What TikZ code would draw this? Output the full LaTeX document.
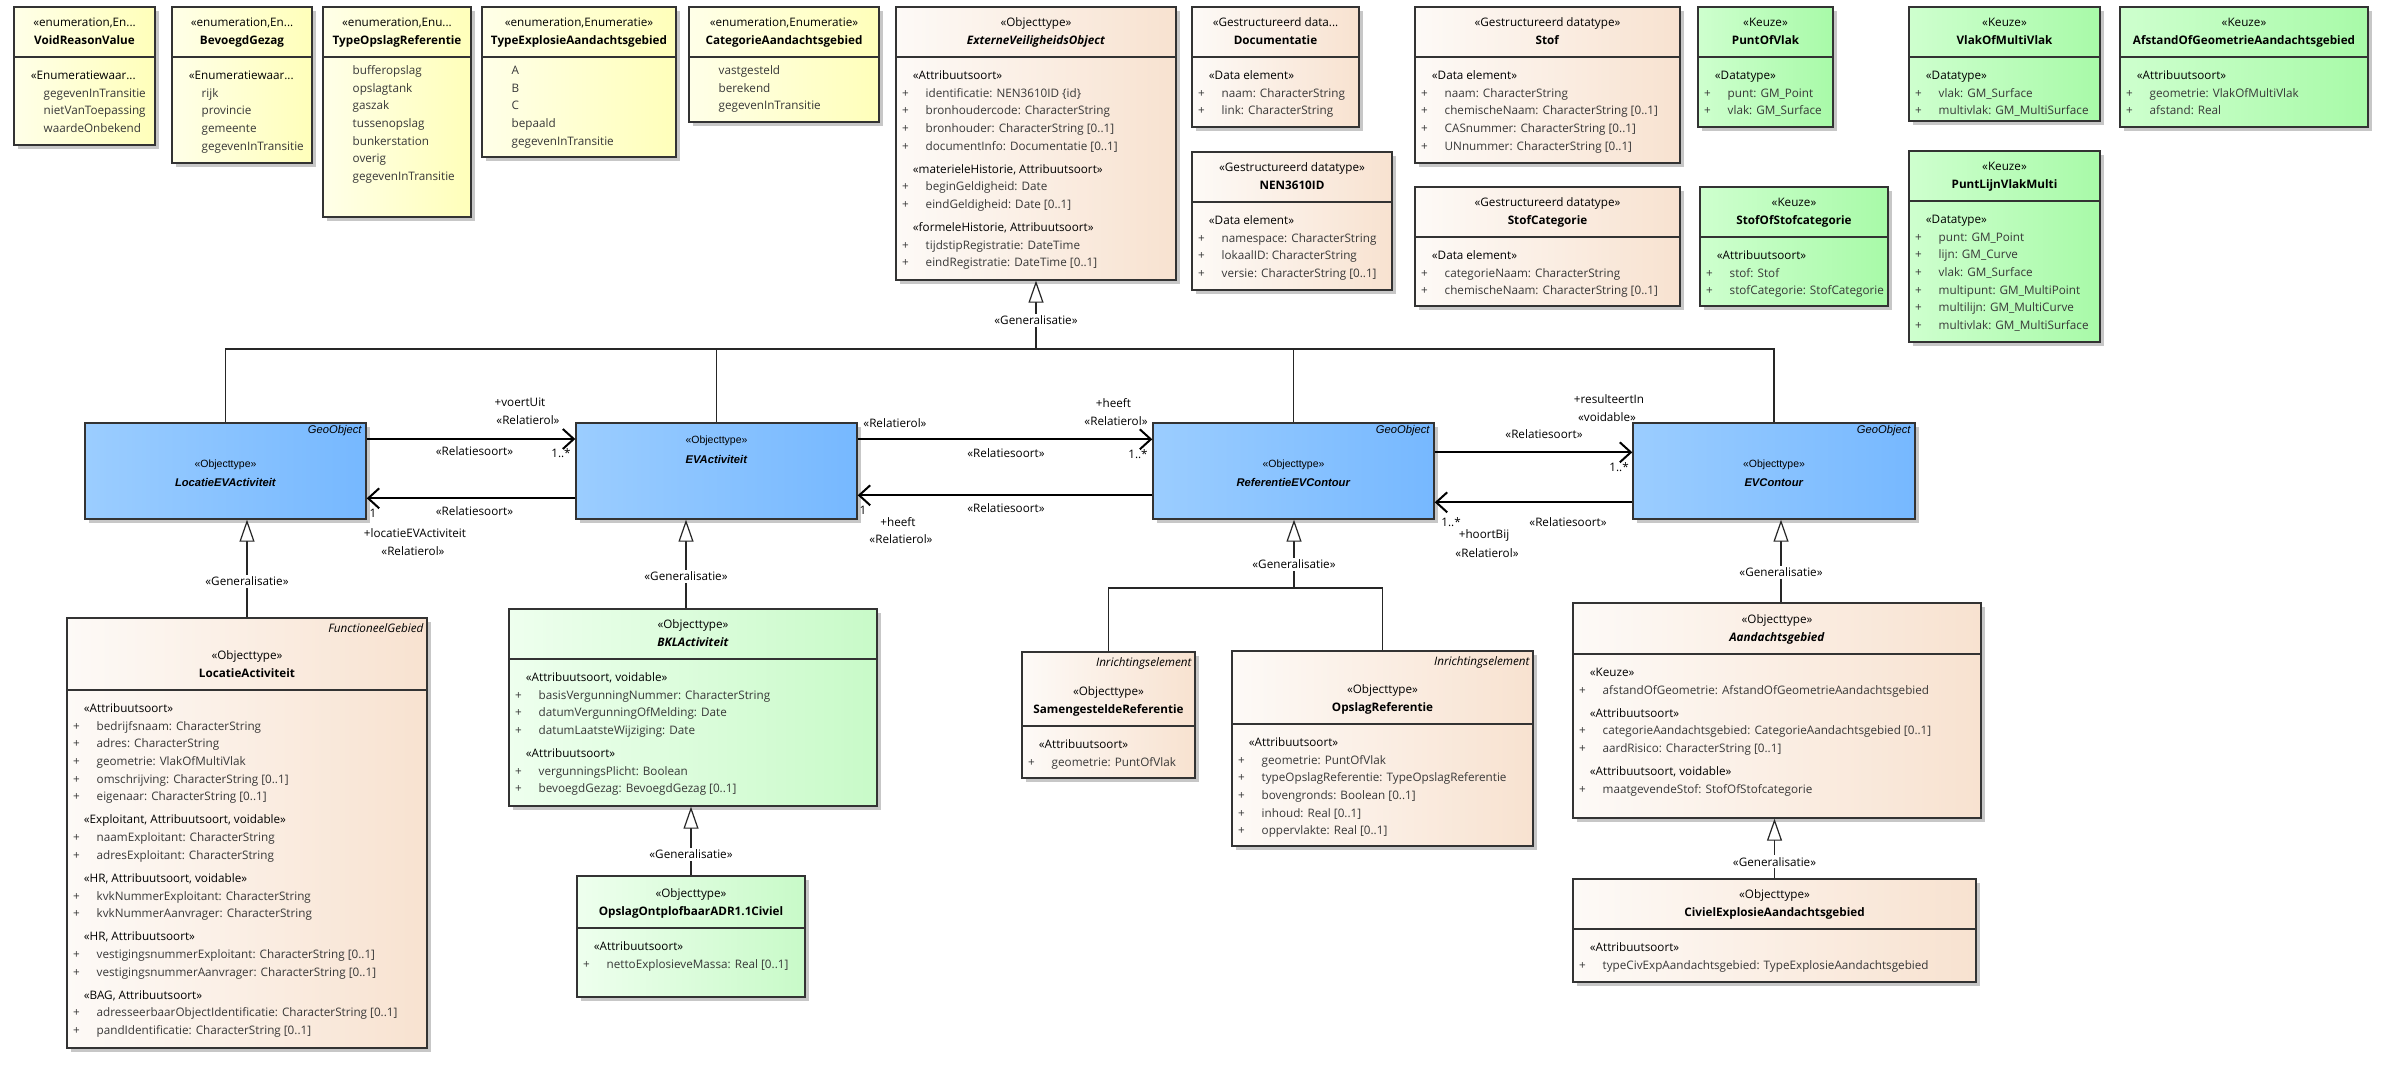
\documentclass[tikz,border=0pt]{standalone}
\usepackage{fontspec}
\setmainfont{Open Sans}
\newfontfamily\geofont{Liberation Sans}
\usepackage{tikz}
\usetikzlibrary{arrows.meta, positioning, fit, calc, shadows}
\definecolor{enumleft}{RGB}{255,255,232}
\definecolor{enumright}{RGB}{255,255,186}
\definecolor{objleft}{RGB}{253,250,247}
\definecolor{objright}{RGB}{248,226,208}
\definecolor{keuzeleft}{RGB}{206,255,206}
\definecolor{keuzeright}{RGB}{168,250,168}
\definecolor{bklleft}{RGB}{238,255,238}
\definecolor{bklright}{RGB}{200,250,200}
\definecolor{geoleft}{RGB}{155,205,255}
\definecolor{georight}{RGB}{118,184,255}

\newcommand{\stereo}[1]{\hspace*{10.7pt}\strut«#1»}
\newcommand{\attr}[1]{\strut{\color{black!78}\makebox[23.5pt][l]{+}#1}}
\newcommand{\lit}[1]{\hspace*{23.5pt}\strut{\color{black!78}#1}}

\newcommand{\umlclass}[8]{%
  \node[box, #2, fit={(#3,#4) (#5,#6)}] (#1) {};
  \coordinate (#1-hl) at (#3,#7);
  \draw[divider] (#1-hl) -- (#1-hl -| #1.east);
  \node[hdr] (#1-h) at ($(#1.north |- #1-hl)+(0,-42.9)$) {#8};
}
\newcommand{\geobox}[7]{%
  \node[box, geo, fit={(#2,#3) (#4,#5)}] (#1) {};
  \coordinate (#1-s) at (#2,#6);
  \node[geotxt] (#1-h) at ($(#1.north |- #1-s)+(0,-10.8)$)
    {\strut{\fontsize{10.5}{19.4}\selectfont«Objecttype»}\\\textbf{\textit{#7}}};
}

\begin{document}
\begin{tikzpicture}[x=1pt, y=-1pt,
  box/.style={draw=black!80, line width=1.4pt, inner sep=0pt,
              drop shadow={shadow xshift=4pt, shadow yshift=-4pt, fill=black!22, opacity=1}},
  enum/.style={left color=enumleft, right color=enumright},
  obj/.style={left color=objleft, right color=objright},
  keuze/.style={left color=keuzeleft, right color=keuzeright},
  bkl/.style={left color=bklleft, right color=bklright},
  geo/.style={left color=geoleft, right color=georight},
  divider/.style={draw=black!80, line width=1.4pt},
  hdr/.style={anchor=north, align=center, inner sep=0pt, font=\fontsize{11.7}{17.7}\selectfont},
  attrs/.style={anchor=north west, align=left, inner sep=0pt, font=\fontsize{11.7}{17.7}\selectfont},
  tag/.style={anchor=north east, inner sep=0pt, font=\fontsize{11.7}{17.7}\selectfont\itshape},
  geotxt/.style={anchor=north, align=center, inner sep=0pt, font=\geofont\fontsize{11.2}{19.4}\selectfont},
  geotag/.style={anchor=north east, inner sep=0pt, font=\geofont\fontsize{11.2}{19.4}\selectfont\itshape},
  lbl/.style={inner sep=0pt, font=\fontsize{11.7}{14}\selectfont},
  glbl/.style={fill=white, inner sep=2pt, font=\fontsize{11.7}{14}\selectfont},
  gen/.style={-{Triangle[fill=white, length=22pt, width=15pt]}, line width=1.2pt, draw=black!85},
  tree/.style={line width=1.2pt, draw=black!85},
  assoc/.style={-{Straight Barb[length=11pt, width=20pt]}, line width=2pt}
]
\useasboundingbox (0,0) rectangle (2392,1067);

\umlclass{vrv}{enum}{14}{7}{155}{145}{57}{\strut«enumeration,En...\\\textbf{VoidReasonValue}}
\node[attrs] (vrv-b) at ($(vrv-hl)+(6,9.8)$) {\hspace*{10.7pt}\strut«Enumeratiewaar...\\\lit{gegevenInTransitie}\\\lit{nietVanToepassing}\\\lit{waardeOnbekend}};

\umlclass{bg}{enum}{172}{7}{312}{163}{57}{\strut«enumeration,En...\\\textbf{BevoegdGezag}}
\node[attrs] (bg-b) at ($(bg-hl)+(6,9.8)$) {\hspace*{10.7pt}\strut«Enumeratiewaar...\\\lit{rijk}\\\lit{provincie}\\\lit{gemeente}\\\lit{gegevenInTransitie}};

\umlclass{tor}{enum}{323}{7}{471}{217}{57}{\strut«enumeration,Enu...\\\textbf{TypeOpslagReferentie}}
\node[attrs] (tor-b) at ($(tor-hl)+(6,4.8)$) {\lit{bufferopslag}\\\lit{opslagtank}\\\lit{gaszak}\\\lit{tussenopslag}\\\lit{bunkerstation}\\\lit{overig}\\\lit{gegevenInTransitie}};

\umlclass{tea}{enum}{482}{7}{676}{157}{57}{\strut«enumeration,Enumeratie»\\\textbf{TypeExplosieAandachtsgebied}}
\node[attrs] (tea-b) at ($(tea-hl)+(6,4.8)$) {\lit{A}\\\lit{B}\\\lit{C}\\\lit{bepaald}\\\lit{gegevenInTransitie}};

\umlclass{cag}{enum}{689}{7}{879}{122}{57}{\strut«enumeration,Enumeratie»\\\textbf{CategorieAandachtsgebied}}
\node[attrs] (cag-b) at ($(cag-hl)+(6,4.8)$) {\lit{vastgesteld}\\\lit{berekend}\\\lit{gegevenInTransitie}};

\umlclass{evo}{obj}{896}{7}{1176}{280}{57}{\strut«Objecttype»\\\textbf{\textit{ExterneVeiligheidsObject}}}
\node[attrs] (evo-b) at ($(evo-hl)+(6,9.8)$) {\stereo{Attribuutsoort}\\\attr{identificatie: NEN3610ID \{id\}}\\\attr{bronhoudercode: CharacterString}\\\attr{bronhouder: CharacterString [0..1]}\\\attr{documentInfo: Documentatie [0..1]}\\[5.3pt]\stereo{materieleHistorie, Attribuutsoort}\\\attr{beginGeldigheid: Date}\\\attr{eindGeldigheid: Date [0..1]}\\[5.3pt]\stereo{formeleHistorie, Attribuutsoort}\\\attr{tijdstipRegistratie: DateTime}\\\attr{eindRegistratie: DateTime [0..1]}};

\umlclass{doc}{obj}{1192}{7}{1359}{127}{57}{\strut«Gestructureerd data...\\\textbf{Documentatie}}
\node[attrs] (doc-b) at ($(doc-hl)+(6,9.8)$) {\stereo{Data element}\\\attr{naam: CharacterString}\\\attr{link: CharacterString}};

\umlclass{nen}{obj}{1192}{152}{1392}{290}{202}{\strut«Gestructureerd datatype»\\\textbf{NEN3610ID}}
\node[attrs] (nen-b) at ($(nen-hl)+(6,9.8)$) {\stereo{Data element}\\\attr{namespace: CharacterString}\\\attr{lokaalID: CharacterString}\\\attr{versie: CharacterString [0..1]}};

\umlclass{stof}{obj}{1415}{7}{1680}{163}{57}{\strut«Gestructureerd datatype»\\\textbf{Stof}}
\node[attrs] (stof-b) at ($(stof-hl)+(6,9.8)$) {\stereo{Data element}\\\attr{naam: CharacterString}\\\attr{chemischeNaam: CharacterString [0..1]}\\\attr{CASnummer: CharacterString [0..1]}\\\attr{UNnummer: CharacterString [0..1]}};

\umlclass{sc}{obj}{1415}{187}{1680}{306}{237}{\strut«Gestructureerd datatype»\\\textbf{StofCategorie}}
\node[attrs] (sc-b) at ($(sc-hl)+(6,9.8)$) {\stereo{Data element}\\\attr{categorieNaam: CharacterString}\\\attr{chemischeNaam: CharacterString [0..1]}};

\umlclass{pov}{keuze}{1698}{7}{1833}{127}{57}{\strut«Keuze»\\\textbf{PuntOfVlak}}
\node[attrs] (pov-b) at ($(pov-hl)+(6,9.8)$) {\stereo{Datatype}\\\attr{punt: GM\_Point}\\\attr{vlak: GM\_Surface}};

\umlclass{vomv}{keuze}{1909}{7}{2100}{121}{57}{\strut«Keuze»\\\textbf{VlakOfMultiVlak}}
\node[attrs] (vomv-b) at ($(vomv-hl)+(6,9.8)$) {\stereo{Datatype}\\\attr{vlak: GM\_Surface}\\\attr{multivlak: GM\_MultiSurface}};

\umlclass{aog}{keuze}{2120}{7}{2368}{127}{57}{\strut«Keuze»\\\textbf{AfstandOfGeometrieAandachtsgebied}}
\node[attrs] (aog-b) at ($(aog-hl)+(6,9.8)$) {\stereo{Attribuutsoort}\\\attr{geometrie: VlakOfMultiVlak}\\\attr{afstand: Real}};

\umlclass{sosc}{keuze}{1700}{187}{1888}{306}{237}{\strut«Keuze»\\\textbf{StofOfStofcategorie}}
\node[attrs] (sosc-b) at ($(sosc-hl)+(6,9.8)$) {\stereo{Attribuutsoort}\\\attr{stof: Stof}\\\attr{stofCategorie: StofCategorie}};

\umlclass{plvm}{keuze}{1909}{151}{2100}{342}{201}{\strut«Keuze»\\\textbf{PuntLijnVlakMulti}}
\node[attrs] (plvm-b) at ($(plvm-hl)+(6,9.8)$) {\stereo{Datatype}\\\attr{punt: GM\_Point}\\\attr{lijn: GM\_Curve}\\\attr{vlak: GM\_Surface}\\\attr{multipunt: GM\_MultiPoint}\\\attr{multilijn: GM\_MultiCurve}\\\attr{multivlak: GM\_MultiSurface}};

\geobox{leva}{85}{423}{366}{519}{464.3}{LocatieEVActiviteit}
\node[geotag] (leva-t) at ($(leva.north east)+(-5,2.6)$) {GeoObject};
\geobox{eva}{576}{423}{857}{519}{440.7}{EVActiviteit}
\geobox{rec}{1153}{423}{1434}{519}{464.3}{ReferentieEVContour}
\node[geotag] (rec-t) at ($(rec.north east)+(-5,2.6)$) {GeoObject};
\geobox{evc}{1633}{423}{1915}{519}{464.3}{EVContour}
\node[geotag] (evc-t) at ($(evc.north east)+(-5,2.6)$) {GeoObject};

\umlclass{la}{obj}{67}{618}{427}{1048}{690}{\strut«Objecttype»\\\textbf{LocatieActiviteit}}
\node[tag] (la-t) at ($(la.north east)+(-4,2.9)$) {\strut FunctioneelGebied};
\node[attrs] (la-b) at ($(la-hl)+(6,9.8)$) {\stereo{Attribuutsoort}\\\attr{bedrijfsnaam: CharacterString}\\\attr{adres: CharacterString}\\\attr{geometrie: VlakOfMultiVlak}\\\attr{omschrijving: CharacterString [0..1]}\\\attr{eigenaar: CharacterString [0..1]}\\[5.3pt]\stereo{Exploitant, Attribuutsoort, voidable}\\\attr{naamExploitant: CharacterString}\\\attr{adresExploitant: CharacterString}\\[5.3pt]\stereo{HR, Attribuutsoort, voidable}\\\attr{kvkNummerExploitant: CharacterString}\\\attr{kvkNummerAanvrager: CharacterString}\\[5.3pt]\stereo{HR, Attribuutsoort}\\\attr{vestigingsnummerExploitant: CharacterString [0..1]}\\\attr{vestigingsnummerAanvrager: CharacterString [0..1]}\\[5.3pt]\stereo{BAG, Attribuutsoort}\\\attr{adresseerbaarObjectIdentificatie: CharacterString [0..1]}\\\attr{pandIdentificatie: CharacterString [0..1]}};

\umlclass{bkl}{bkl}{509}{609}{877}{806}{659}{\strut«Objecttype»\\\textbf{\textit{BKLActiviteit}}}
\node[attrs] (bkl-b) at ($(bkl-hl)+(6,9.8)$) {\stereo{Attribuutsoort, voidable}\\\attr{basisVergunningNummer: CharacterString}\\\attr{datumVergunningOfMelding: Date}\\\attr{datumLaatsteWijziging: Date}\\[5.3pt]\stereo{Attribuutsoort}\\\attr{vergunningsPlicht: Boolean}\\\attr{bevoegdGezag: BevoegdGezag [0..1]}};

\umlclass{oo}{bkl}{577}{876}{805}{997}{928}{\strut«Objecttype»\\\textbf{OpslagOntplofbaarADR1.1Civiel}}
\node[attrs] (oo-b) at ($(oo-hl)+(6,9.8)$) {\stereo{Attribuutsoort}\\\attr{nettoExplosieveMassa: Real [0..1]}};

\umlclass{sr}{obj}{1022}{652}{1195}{778}{726}{\strut«Objecttype»\\\textbf{SamengesteldeReferentie}}
\node[tag] (sr-t) at ($(sr.north east)+(-4,2.9)$) {\strut Inrichtingselement};
\node[attrs] (sr-b) at ($(sr-hl)+(6,9.8)$) {\stereo{Attribuutsoort}\\\attr{geometrie: PuntOfVlak}};

\umlclass{or}{obj}{1232}{651}{1533}{846}{724}{\strut«Objecttype»\\\textbf{OpslagReferentie}}
\node[tag] (or-t) at ($(or.north east)+(-4,2.9)$) {\strut Inrichtingselement};
\node[attrs] (or-b) at ($(or-hl)+(6,9.8)$) {\stereo{Attribuutsoort}\\\attr{geometrie: PuntOfVlak}\\\attr{typeOpslagReferentie: TypeOpslagReferentie}\\\attr{bovengronds: Boolean [0..1]}\\\attr{inhoud: Real [0..1]}\\\attr{oppervlakte: Real [0..1]}};

\umlclass{ag}{obj}{1573}{603}{1981}{818}{654}{\strut«Objecttype»\\\textbf{\textit{Aandachtsgebied}}}
\node[attrs] (ag-b) at ($(ag-hl)+(6,9.8)$) {\stereo{Keuze}\\\attr{afstandOfGeometrie: AfstandOfGeometrieAandachtsgebied}\\[5.3pt]\stereo{Attribuutsoort}\\\attr{categorieAandachtsgebied: CategorieAandachtsgebied [0..1]}\\\attr{aardRisico: CharacterString [0..1]}\\[5.3pt]\stereo{Attribuutsoort, voidable}\\\attr{maatgevendeStof: StofOfStofcategorie}};

\umlclass{ceag}{obj}{1573}{879}{1976}{982}{929}{\strut«Objecttype»\\\textbf{CivielExplosieAandachtsgebied}}
\node[attrs] (ceag-b) at ($(ceag-hl)+(6,9.8)$) {\stereo{Attribuutsoort}\\\attr{typeCivExpAandachtsgebied: TypeExplosieAandachtsgebied}};

\coordinate (gtop) at (1036,349);
\draw[tree] (leva.north) |- (gtop);
\draw[tree] (eva.north) |- (gtop);
\draw[tree] (rec.north) |- (gtop);
\draw[tree] (evc.north) |- (gtop);
\draw[gen] (gtop) -- node[glbl, pos=0.42] (g-evo) {«Generalisatie»} (evo.south);

\draw[gen] (la.north) -- node[glbl, pos=0.37] (g-leva) {«Generalisatie»} (la.north |- leva.south);
\coordinate (bkl-g) at ([xshift=-7pt]bkl.north);
\draw[gen] (bkl-g) -- node[glbl, pos=0.36] (g-eva) {«Generalisatie»} (bkl-g |- eva.south);
\draw[gen] (oo.north) -- node[glbl, pos=0.31] (g-bkl) {«Generalisatie»} (oo.north |- bkl.south);
\coordinate (rjoin) at (1294,588);
\draw[tree] (sr.north) |- (rjoin);
\draw[tree] (or.north) |- (rjoin);
\draw[gen] (rjoin) -- node[glbl, pos=0.35] (g-rec) {«Generalisatie»} (rjoin |- rec.south);
\coordinate (ag-g) at ([xshift=4pt]ag.north);
\draw[gen] (ag-g) -- node[glbl, pos=0.36] (g-evc) {«Generalisatie»} (ag-g |- evc.south);
\draw[gen] (ceag.north) -- node[glbl, pos=0.28] (g-ag) {«Generalisatie»} (ceag.north |- ag.south);

\draw[assoc] ([yshift=32pt]leva.east) -- ([yshift=32pt]eva.west);
\draw[assoc] ([yshift=-27.3pt]eva.west) -- ([yshift=-27.3pt]leva.east);
\draw[assoc] ([yshift=31.7pt]eva.east) -- ([yshift=31.7pt]rec.west);
\draw[assoc] ([yshift=-24.3pt]rec.west) -- ([yshift=-24.3pt]eva.east);
\draw[assoc] ([yshift=18.7pt]rec.east) -- ([yshift=18.7pt]evc.west);
\draw[assoc] ([yshift=-31.3pt]evc.west) -- ([yshift=-31.3pt]rec.east);

\node[lbl] (voertuit) at (520,402) {+voertUit};
\node[lbl] (voertuit-r) at (528,420) {«Relatierol»};
\node[lbl] (voertuit-s) at (474.5,451) {«Relatiesoort»};
\node[lbl] (voertuit-m) at (561,453) {1..*};
\node[lbl] (locatie-s) at (474.5,511) {«Relatiesoort»};
\node[lbl] (locatie-m) at (373,513) {1};
\node[lbl] (locatie) at (415,533) {+locatieEVActiviteit};
\node[lbl] (locatie-r) at (413,551) {«Relatierol»};
\node[lbl] (heeft1-r0) at (895,423) {«Relatierol»};
\node[lbl] (heeft1) at (1113.5,402.7) {+heeft};
\node[lbl] (heeft1-r) at (1116,420.7) {«Relatierol»};
\node[lbl] (heeft1-s) at (1006,452.7) {«Relatiesoort»};
\node[lbl] (heeft1-m) at (1138,454.3) {1..*};
\node[lbl] (heeft2-m) at (863,510.7) {1};
\node[lbl] (heeft2-s) at (1006,507.7) {«Relatiesoort»};
\node[lbl] (heeft2) at (898,521.7) {+heeft};
\node[lbl] (heeft2-r) at (901,539.3) {«Relatierol»};
\node[lbl] (resulteert) at (1609,399.3) {+resulteertIn};
\node[lbl] (resulteert-v) at (1607,416.7) {«voidable»};
\node[lbl] (resulteert-s) at (1544,434.3) {«Relatiesoort»};
\node[lbl] (resulteert-m) at (1619,467.3) {1..*};
\node[lbl] (hoortbij-m) at (1451,521.7) {1..*};
\node[lbl] (hoortbij-s) at (1568,521.7) {«Relatiesoort»};
\node[lbl] (hoortbij) at (1484,535) {+hoortBij};
\node[lbl] (hoortbij-r) at (1487,552.7) {«Relatierol»};
\end{tikzpicture}
\end{document}
